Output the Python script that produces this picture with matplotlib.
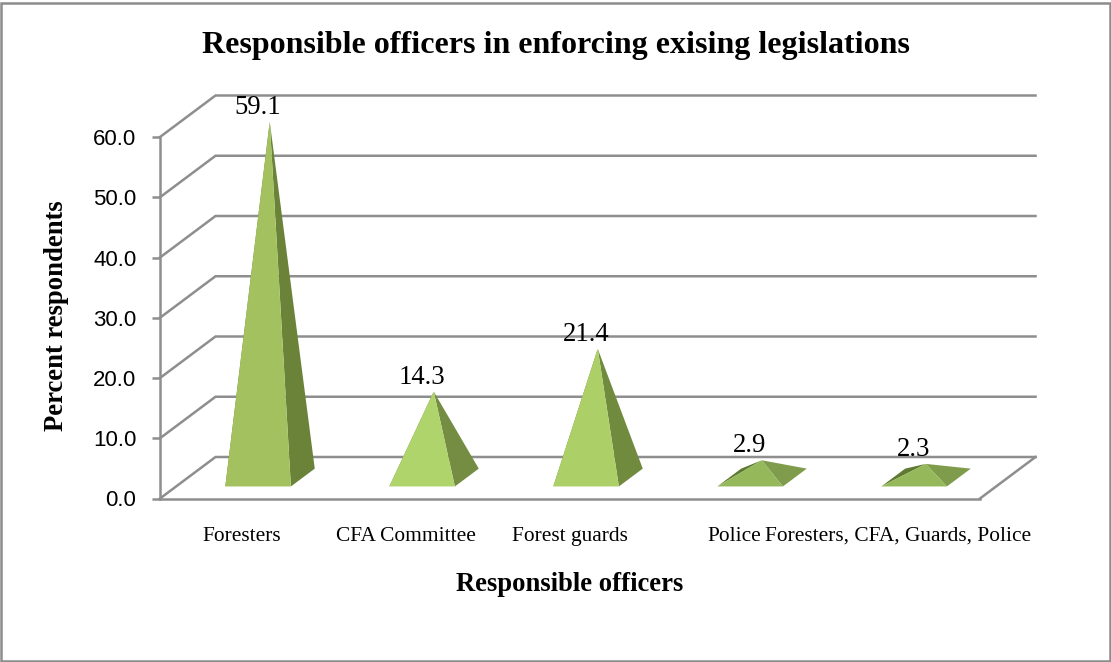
from matplotlib import pyplot as plt
from matplotlib.patches import Polygon, Rectangle

# Survey results
officers = ['Foresters', 'CFA Committee', 'Forest guards', 'Police', 'Foresters, CFA, Guards, Police']
percents = [59.1, 14.3, 21.4, 2.9, 2.3]
y_ticks = [0, 10, 20, 30, 40, 50, 60]

# Face colours of each pyramid
front_colors = ['#a3c25f', '#b0d46c', '#accf67', '#95b95a', '#95b95a']
right_colors = ['#6a8339', '#748d42', '#708a3e', '#7e9c4b', '#7e9c4b']
left_colors = ['#6a8339', '#748d42', '#708a3e', '#5f7a33', '#5f7a33']

GRID = '#8e8e8e'
W, H = 1111, 662

# Oblique projection, depth is 0 at the front of the floor and 1 at the back wall
DX = 55.5 / 164
DZ = 41.5 / 6.025
BAR_W = 0.4
D_FRONT = 0.29
D_BACK = 0.72


def project(x, z, d):
    return x + d * DX, z + d * DZ


plt.rcParams['font.family'] = ['Liberation Serif', 'DejaVu Serif']

fig = plt.figure(figsize=(W / 100, H / 100), dpi=100)
fig.patch.set_facecolor('white')
ax = fig.add_axes([160 / W, 1 - 498.5 / H, 820 / W, 361.5 / H])
ax.set_xlim(0, len(officers))
ax.set_ylim(0, 60)
ax.patch.set_alpha(0)

# Walls and floor
for t in y_ticks:
    x0, z0 = project(0, t, 0)
    x1, z1 = project(0, t, 1)
    x2, z2 = project(len(officers), t, 1)
    ax.plot([x0, x1, x2], [z0, z1, z2], color=GRID, lw=1.8, clip_on=False, zorder=1,
            solid_joinstyle='miter')
x0, z0 = project(len(officers), 0, 0)
x1, z1 = project(len(officers), 0, 1)
ax.plot([x0, x1], [z0, z1], color=GRID, lw=1.8, clip_on=False, zorder=1)

# Pyramids
for i, v in enumerate(percents):
    xl = i + 0.5 - BAR_W / 2
    xr = i + 0.5 + BAR_W / 2
    apex = project(i + 0.5, v, 0.5)
    fl = project(xl, 0, D_FRONT)
    fr = project(xr, 0, D_FRONT)
    bl = project(xl, 0, D_BACK)
    br = project(xr, 0, D_BACK)
    ax.add_patch(Polygon([fl, bl, apex], closed=True, fc=left_colors[i], ec='none', clip_on=False, zorder=3))
    ax.add_patch(Polygon([fr, br, apex], closed=True, fc=right_colors[i], ec='none', clip_on=False, zorder=3))
    ax.add_patch(Polygon([fl, fr, apex], closed=True, fc=front_colors[i], ec='none', clip_on=False, zorder=4))
    ax.annotate('%.1f' % v, xy=apex, xytext=(-8.6, 10.5), textcoords='offset points',
                ha='center', va='center', fontsize=19.3, color='black', zorder=5,
                annotation_clip=False)

# Axes
for s in ['top', 'right']:
    ax.spines[s].set_visible(False)
for s in ['left', 'bottom']:
    ax.spines[s].set_color(GRID)
    ax.spines[s].set_linewidth(1.8)
    ax.spines[s].set_zorder(2)

ax.set_yticks(y_ticks)
ax.set_yticklabels(['%.1f' % t for t in y_ticks], family=['Liberation Sans', 'DejaVu Sans'], fontsize=16)
ax.tick_params(axis='y', length=5.5, width=1.8, color=GRID, pad=11.5)
ax.set_xticks([i + 0.5 for i in range(len(officers))])
ax.set_xticklabels(officers, fontsize=15.4)
ax.tick_params(axis='x', length=0, pad=20.5)

ax.set_xlabel('Responsible officers', fontsize=19.2, fontweight='bold', labelpad=18.5)
ax.set_ylabel('Percent respondents', fontsize=19.2, fontweight='bold', labelpad=17, y=0.505)
fig.text(0.5, 1 - 45 / H, 'Responsible officers in enforcing exising legislations',
         ha='center', va='center', fontsize=23, fontweight='bold')

# Outer frame of the chart
fig.add_artist(Rectangle((1 / W, 1 / H), 1 - 2 / W, 1 - 4 / H, transform=fig.transFigure,
                         fc='none', ec='#8c8c8c', lw=1.8))

fig.savefig('out.png', dpi=100)
